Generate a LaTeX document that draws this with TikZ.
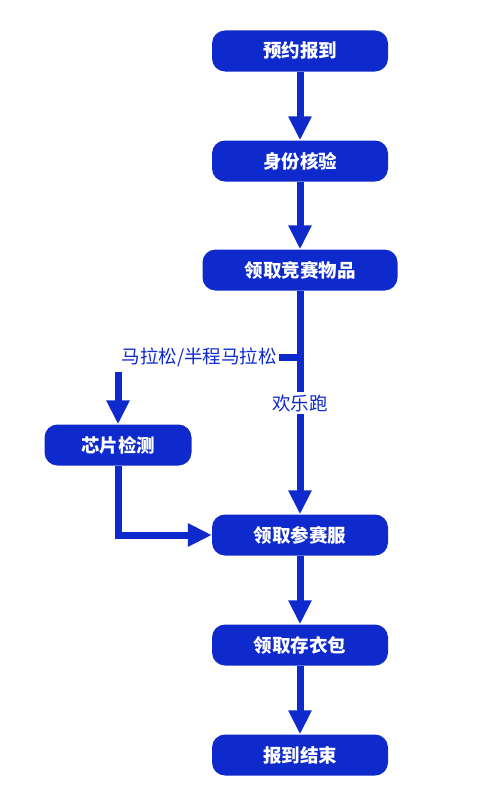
\documentclass[tikz,border=0pt]{standalone}
\usepackage{fontspec}
\setmainfont{Noto Sans CJK SC}
\usetikzlibrary{arrows.meta}
\definecolor{regBlue}{RGB}{14,42,204}

\begin{document}
\begin{tikzpicture}[x=1pt, y=-1pt,
  stepbox/.style={fill=regBlue, rounded corners=13pt, minimum width=176pt, minimum height=41pt, text=white, font=\fontsize{18.5}{20}\selectfont\bfseries},
  flow/.style={regBlue, line width=7pt, -{Triangle[width=22pt,length=24pt]}},
  link/.style={regBlue, line width=7pt},
  branch/.style={text=regBlue, fill=white, inner sep=2pt, font=\fontsize{18.5}{20}\selectfont}]
  \useasboundingbox (0,0) rectangle (501,792);

  % Steps
  \node[stepbox] (checkin) at (300,51) {预约报到};
  \node[stepbox] (verify) at (300,161) {身份核验};
  \node[stepbox, minimum width=195pt] (goods) at (300,270) {领取竞赛物品};
  \node[stepbox, minimum width=147pt] (chip) at (118,445) {芯片检测};
  \node[stepbox] (apparel) at (300,535) {领取参赛服};
  \node[stepbox] (locker) at (300,645) {领取存衣包};
  \node[stepbox] (finish) at (300,755) {报到结束};

  % Main line
  \draw[flow] (checkin) -- (verify);
  \draw[flow] (verify) -- (goods);
  \draw[flow] (goods) -- (apparel);
  \draw[flow] (apparel) -- (locker);
  \draw[flow] (locker) -- (finish);

  % Branch labels
  \node[branch, anchor=east] (marathon) at (279,357) {马拉松/半程马拉松};
  \node[branch] (funrun) at (300,403) {欢乐跑};

  % Chip branch
  \draw[link] (marathon.east) -- (marathon.east -| goods.south);
  \draw[flow, shorten <=3pt] (marathon.south -| chip.north) -- (chip);
  \draw[flow] (chip.south) |- (apparel.west);
\end{tikzpicture}
\end{document}
